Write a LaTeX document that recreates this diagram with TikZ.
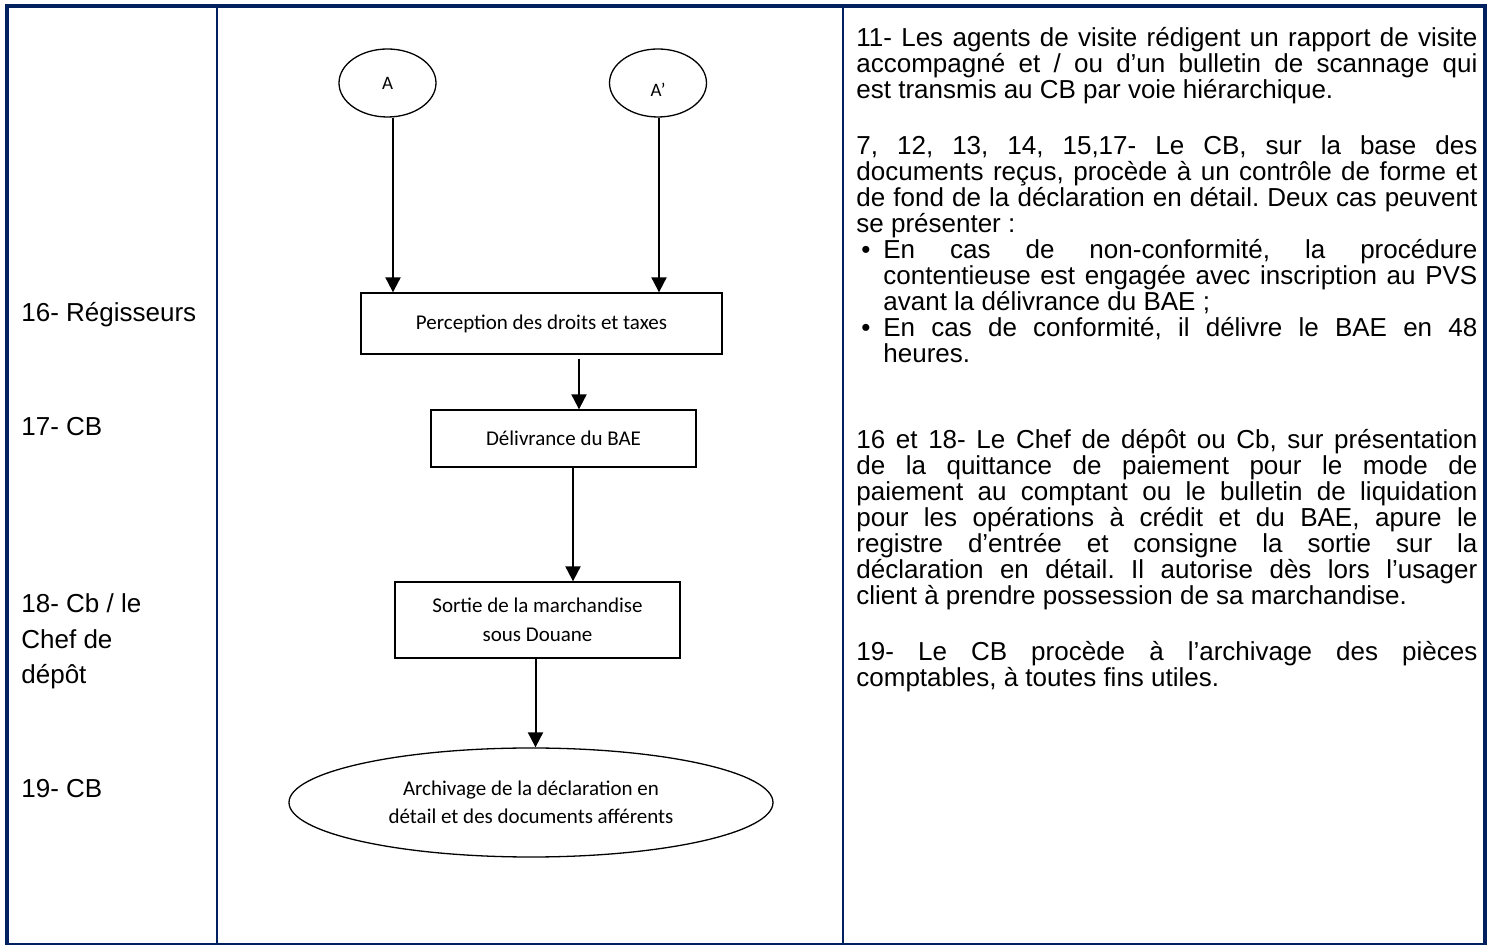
\documentclass[tikz,border=0pt]{standalone}
\usepackage{fontspec}
\setmainfont{Liberation Sans}
\newfontfamily\flowfont{Carlito}
\usetikzlibrary{shapes.geometric,arrows.meta,calc}
\definecolor{navy}{RGB}{0,32,96}
\newlength\colw \setlength\colw{310.5pt}
\newcommand\JustLine[1]{\hbox to \colw{#1}}
\newcommand\LastLine[1]{\hbox{#1}}
\newcommand\BulMark{\hbox to 13.5pt{\hskip 2.5pt •\hfil}}
\newcommand\HangSp{\hskip 13.5pt}
\newcommand\RSet{\frenchspacing\baselineskip=13pt\lineskiplimit=-100pt\lineskip=0pt}
\newcommand\LSet{\baselineskip=17.75pt\lineskiplimit=-100pt\lineskip=0pt}
\begin{document}
\frenchspacing
\begin{tikzpicture}[x=0.5pt,y=-0.5pt,
  tabline/.style={draw=navy},
  procbox/.style={draw=black, line width=0.65pt, inner sep=0pt, align=center,
    font=\flowfont\fontsize{10.5}{14.5}\selectfont},
  connell/.style={ellipse, draw=black, line width=0.65pt, inner sep=0pt,
    minimum width=48.5pt, minimum height=34pt,
    font=\flowfont\fontsize{9.5}{11}\selectfont},
  arr/.style={line width=1pt, -{Triangle[length=7.5pt,width=7.5pt]}},
  lefttxt/.style={anchor=base west, inner sep=0pt, font=\fontsize{13}{17.75}\selectfont},
  rtxt/.style={anchor=base west, inner sep=0pt, font=\fontsize{13}{13}\selectfont}]
\useasboundingbox (0,0) rectangle (1489,945);
\fill[white] (0,0) rectangle (1489,945);
% table frame
\draw[tabline, line width=2pt] (5,6) -- (1487,6);
\draw[tabline, line width=2pt] (7,4) -- (7,945);
\draw[tabline, line width=2pt] (1485,4) -- (1485,945);
\draw[tabline, line width=0.65pt] (5,944) -- (1487,944);
\draw[tabline, line width=0.75pt] (217,8) -- (217,944);
\draw[tabline, line width=0.75pt] (843,8) -- (843,944);
% left column
\node[lefttxt] (l16) at (21,322) {16- Régisseurs};
\node[lefttxt] (l17) at (21,436) {17- CB};
\node[lefttxt] (l18) at (21,613) {\vtop{\LSet\hbox{18- Cb / le}\hbox{Chef de}\hbox{dépôt}}};
\node[lefttxt] (l19) at (21,798) {19- CB};
% flowchart
\node[connell] (A) at (387.5,83) {A};
\node[connell, text height=13.1pt, text depth=0pt] (Ap) at (658,83) {A’};
\node[procbox, minimum width=180.5pt, minimum height=30.5pt] (perc) at (541.5,323.5) {Perception des droits et taxes};
\node[procbox, minimum width=132.5pt, minimum height=28.5pt] (deliv) at (563.5,438.5) {Délivrance du BAE};
\node[procbox, minimum width=142.5pt, minimum height=38pt] (sortie) at (537.5,620) {Sortie de la marchandise\\sous Douane};
\node[connell, minimum width=242pt, minimum height=54.5pt, font=\flowfont\fontsize{10.5}{14}\selectfont, align=center] (arch) at (531,802.5) {Archivage de la déclaration en\\détail et des documents afférents};
\coordinate (a1) at ($(A.south)+(5.5,0)$);
\coordinate (a2) at ($(Ap.south)+(1,0)$);
\coordinate (b1) at ($(perc.south)+(37.5,4)$);
\coordinate (c1) at ($(deliv.south)+(9.5,0)$);
\coordinate (d1) at ($(sortie.south)+(-2,0)$);
\draw[arr] (a1) -- (a1 |- perc.north);
\draw[arr] (a2) -- (a2 |- perc.north);
\draw[arr] (b1) -- (b1 |- deliv.north);
\draw[arr] (c1) -- (c1 |- sortie.north);
\draw[arr] (d1) -- (d1 |- arch.north);
% right column
\node[rtxt] (p1) at (856,47) {\vtop{\RSet
\JustLine{11- Les agents de visite rédigent un rapport de visite}
\JustLine{accompagné et / ou d’un bulletin de scannage qui}
\LastLine{est transmis au CB par voie hiérarchique.}}};
\node[rtxt] (p2) at (856,155) {\vtop{\RSet
\JustLine{7, 12, 13, 14, 15,17- Le CB, sur la base des}
\JustLine{documents reçus, procède à un contrôle de forme et}
\JustLine{de fond de la déclaration en détail. Deux cas peuvent}
\LastLine{se présenter :}
\JustLine{\BulMark En cas de non-conformité, la procédure}
\JustLine{\HangSp contentieuse est engagée avec inscription au PVS}
\LastLine{\HangSp avant la délivrance du BAE ;}
\JustLine{\BulMark En cas de conformité, il délivre le BAE en 48}
\LastLine{\HangSp heures.}}};
\node[rtxt] (p3) at (856,449) {\vtop{\RSet
\JustLine{16 et 18- Le Chef de dépôt ou Cb, sur présentation}
\JustLine{de la quittance de paiement pour le mode de}
\JustLine{paiement au comptant ou le bulletin de liquidation}
\JustLine{pour les opérations à crédit et du BAE, apure le}
\JustLine{registre d’entrée et consigne la sortie sur la}
\JustLine{déclaration en détail. Il autorise dès lors l’usager}
\LastLine{client à prendre possession de sa marchandise.}}};
\node[rtxt] (p4) at (856,661) {\vtop{\RSet
\JustLine{19- Le CB procède à l’archivage des pièces}
\LastLine{comptables, à toutes fins utiles.}}};
\end{tikzpicture}
\end{document}
